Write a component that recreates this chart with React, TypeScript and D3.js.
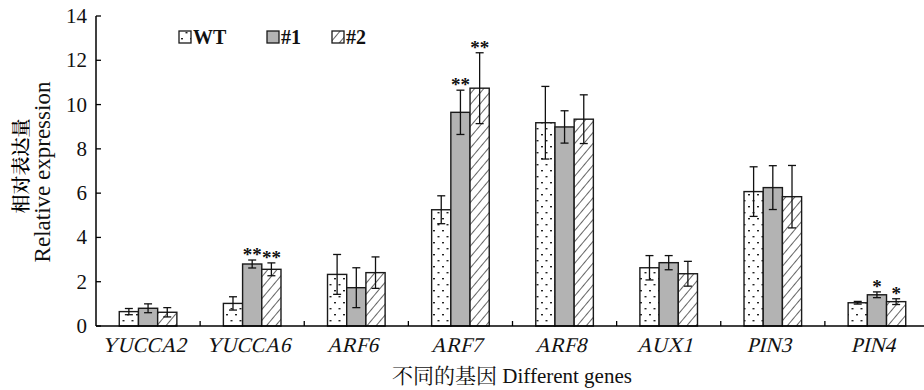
import React from "react";
import * as d3 from "d3";

const genes = ["YUCCA2", "YUCCA6", "ARF6", "ARF7", "ARF8", "AUX1", "PIN3", "PIN4"];
const seriesNames = ["WT", "#1", "#2"];
const wtValues = [0.65, 1.02, 2.33, 5.25, 9.18, 2.63, 6.07, 1.05];
const wtErrors = [0.14, 0.3, 0.9, 0.63, 1.64, 0.55, 1.12, 0.06];
const l1Values = [0.8, 2.8, 1.73, 9.65, 8.99, 2.86, 6.25, 1.41];
const l1Errors = [0.2, 0.18, 0.9, 1.0, 0.73, 0.32, 0.99, 0.13];
const l2Values = [0.62, 2.56, 2.41, 10.74, 9.34, 2.36, 5.84, 1.1];
const l2Errors = [0.21, 0.29, 0.71, 1.6, 1.1, 0.56, 1.41, 0.13];
const l1Marks = ["", "**", "", "**", "", "", "", "*"];
const l2Marks = ["", "**", "", "**", "", "", "", "*"];
const yTicks = [0, 2, 4, 6, 8, 10, 12, 14];

const series = [
  { name: seriesNames[0], values: wtValues, errors: wtErrors, marks: genes.map(() => ""), fill: "url(#dots)" },
  { name: seriesNames[1], values: l1Values, errors: l1Errors, marks: l1Marks, fill: "#b3b3b3" },
  { name: seriesNames[2], values: l2Values, errors: l2Errors, marks: l2Marks, fill: "url(#hatch)" },
];

const W = 924;
const H = 390;
const serif = { fontFamily: "Liberation Serif" };
const cjk = { fontFamily: "Noto Serif CJK SC" };

export default function App() {
  const x = d3.scaleBand<string>().domain(genes).range([96, 929]).padding(0);
  const inner = d3.scaleBand<string>().domain(seriesNames).range([-28.8, 28.8]).padding(0);
  const y = d3.scaleLinear().domain([0, 14]).range([326, 16]);
  const bw = inner.bandwidth();

  return (
    <div style={{ position: "absolute", left: 0, top: 0 }}>
      <svg width={W} height={H} style={{ display: "block", background: "#fff" }}>
        <defs>
          <pattern id="dots" width="9" height="12" patternUnits="userSpaceOnUse">
            <rect width="9" height="12" fill="#fff" />
            <rect x="1" y="2" width="2" height="1.4" fill="#222" />
            <rect x="5.5" y="8" width="2" height="1.4" fill="#222" />
          </pattern>
          <pattern id="hatch" width="7" height="7" patternUnits="userSpaceOnUse" patternTransform="rotate(-50)">
            <rect width="7" height="7" fill="#fff" />
            <line x1="0" y1="0" x2="7" y2="0" stroke="#222" strokeWidth="1.4" />
          </pattern>
        </defs>

        {/* y axis */}
        <line x1={96} x2={96} y1={y(14)} y2={y(0)} stroke="#000" strokeWidth={1.5} />
        {yTicks.map((t) => (
          <g key={t}>
            <line x1={96} x2={101} y1={y(t)} y2={y(t)} stroke="#000" strokeWidth={1.3} />
            <text x={87} y={y(t) + 7} textAnchor="end" style={serif} fontSize={21} fill="#111">
              {t}
            </text>
          </g>
        ))}

        {/* bars */}
        {genes.map((g, gi) => (
          <g key={g}>
            {series.map((s) => {
              const cx = (x(g) as number) + x.bandwidth() / 2 + (inner(s.name) as number);
              const v = s.values[gi];
              const e = s.errors[gi];
              const mid = cx + bw / 2;
              return (
                <g key={s.name}>
                  <rect x={cx} y={y(v)} width={bw} height={y(0) - y(v)} fill={s.fill} stroke="#1a1a1a" strokeWidth={1.4} />
                  <line x1={mid} x2={mid} y1={y(v + e)} y2={y(v - e)} stroke="#111" strokeWidth={1.3} />
                  <line x1={mid - 4} x2={mid + 4} y1={y(v + e)} y2={y(v + e)} stroke="#111" strokeWidth={1.3} />
                  <line x1={mid - 4} x2={mid + 4} y1={y(v - e)} y2={y(v - e)} stroke="#111" strokeWidth={1.3} />
                  {s.marks[gi] && (
                    <text x={mid} y={y(v + e) + 1} textAnchor="middle" style={serif} fontWeight="bold" fontSize={19} fill="#111">
                      {s.marks[gi]}
                    </text>
                  )}
                </g>
              );
            })}
          </g>
        ))}

        {/* x axis */}
        <line x1={96} x2={W} y1={y(0)} y2={y(0)} stroke="#000" strokeWidth={1.5} />
        {genes.slice(1).map((g) => (
          <line key={g} x1={x(g) as number} x2={x(g) as number} y1={y(0)} y2={y(0) - 5} stroke="#000" strokeWidth={1.3} />
        ))}
        {genes.map((g) => (
          <text
            key={g}
            transform={`translate(${(x(g) as number) + x.bandwidth() / 2 - 4},352) skewX(-14)`}
            textAnchor="middle"
            style={serif}
            fontSize={21}
            fill="#111"
          >
            {g}
          </text>
        ))}

        {/* axis titles */}
        <text x={512} y={383} textAnchor="middle" fontSize={21} fill="#111">
          <tspan style={cjk}>不同的基因</tspan>
          <tspan style={serif}> Different genes</tspan>
        </text>
        <text transform="translate(19,166) rotate(-90)" textAnchor="middle" dominantBaseline="central" style={cjk} fontWeight={600} fontSize={19} fill="#000">
          相对表达量
        </text>
        <text transform="translate(42,172) rotate(-90)" textAnchor="middle" dominantBaseline="central" style={serif} fontSize={23} fill="#111">
          Relative expression
        </text>

        {/* legend */}
        {series.map((s, i) => {
          const lx = [179, 267, 332][i];
          return (
            <g key={s.name}>
              <rect x={lx} y={31} width={12} height={12} fill={s.fill} stroke="#1a1a1a" strokeWidth={1.3} />
              <text x={lx + 14} y={44} style={serif} fontWeight="bold" fontSize={20} fill="#111">
                {s.name}
              </text>
            </g>
          );
        })}
      </svg>
    </div>
  );
}
